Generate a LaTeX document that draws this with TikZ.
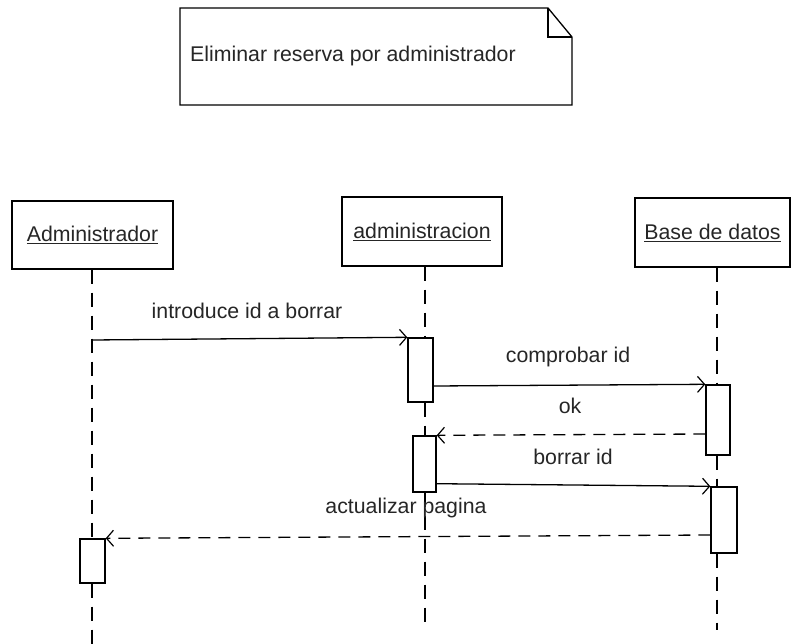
\documentclass[tikz,border=0pt]{standalone}
\usepackage{fontspec}
\setmainfont{Liberation Sans}
\usetikzlibrary{arrows.meta,calc}
\begin{document}
\begin{tikzpicture}[x=1pt,y=-1pt,
  every node/.style={font=\fontsize{21.3}{25}\selectfont, text=black!85},
  objbox/.style={draw, line width=1.4pt, inner sep=0pt},
  actbox/.style={draw, line width=1.4pt, fill=white, inner sep=0pt, minimum width=#1},
  lifeline/.style={line width=1.6pt, dash pattern=on 14pt off 9pt},
  msg/.style={line width=1.3pt, -{Straight Barb[length=7pt,width=16pt,line width=1.2pt]}},
  reply/.style={msg, dash pattern=on 12pt off 8pt},
  lbl/.style={inner sep=1pt}
]
\useasboundingbox (0,0) rectangle (792,644);
\fill[white] (0,0) rectangle (792,644);

% note
\draw[line width=1.3pt] (180,8) -- (548,8) -- (572,37) -- (572,105) -- (180,105) -- cycle;
\draw[line width=1.3pt] (548,8) -- (548,37) -- (572,37);
\node[anchor=west, lbl] (notetext) at (189,56) {Eliminar reserva por administrador};

% objects
\node[objbox, minimum width=161pt, minimum height=68pt] (adm) at (92.5,235) {\underline{Administrador}};
\node[objbox, minimum width=160pt, minimum height=69pt] (sys) at (422,231.5) {\underline{administracion}};
\node[objbox, minimum width=155pt, minimum height=69pt] (db) at (712.5,232.5) {\underline{Base de datos}};

% activation boxes
\node[actbox=25pt, minimum height=64pt] (s1) at (420.5,370) {};
\node[actbox=23pt, minimum height=56pt] (s2) at (424.5,464) {};
\node[actbox=24pt, minimum height=70pt] (d1) at (718,420) {};
\node[actbox=26pt, minimum height=66pt] (d2) at (724,520) {};
\node[actbox=25pt, minimum height=44pt] (a1) at (92.5,561) {};

% lifeline ends
\coordinate (admend) at (92,644);
\coordinate (sysend) at (425,630);
\coordinate (dbend) at (717,630);

% lifelines
\draw[lifeline] (adm.south -| 92,0) -- (a1.north -| 92,0);
\draw[lifeline] (a1.south -| 92,0) -- (admend);
\draw[lifeline] (sys.south -| 425,0) -- (s1.north -| 425,0);
\draw[lifeline] (s1.south -| 425,0) -- (s2.north -| 425,0);
\draw[lifeline] (s2.south -| 425,0) -- (sysend);
\draw[lifeline] (db.south -| 717,0) -- (d1.north -| 717,0);
\draw[lifeline] (d1.south -| 717,0) -- (d2.north -| 717,0);
\draw[lifeline] (d2.south -| 717,0) -- (dbend);

% messages
\coordinate (m1s) at (92,340);
\draw[msg] (m1s) -- (s1.north west);
\node[lbl] (l1) at (247,311) {introduce id a borrar};

\coordinate (m2s) at ($(s1.east)+(0,16)$);
\draw[msg] (m2s) -- (d1.north west);
\node[lbl] (l2) at (568,357) {comprobar id};

\coordinate (m3s) at ($(d1.west)+(0,14)$);
\draw[reply] (m3s) -- (s2.north east);
\node[lbl] (l3) at (570,406) {ok};

\coordinate (m4s) at ($(s2.south east)+(0,-9)$);
\draw[msg] (m4s) -- (d2.north west);
\node[lbl] (l4) at (573,457) {borrar id};

\coordinate (m5s) at ($(d2.west)+(0,15)$);
\draw[reply] (m5s) -- (a1.north east);
\node[lbl] (l5) at (406,508) {actualizar pagina};
\end{tikzpicture}
\end{document}
